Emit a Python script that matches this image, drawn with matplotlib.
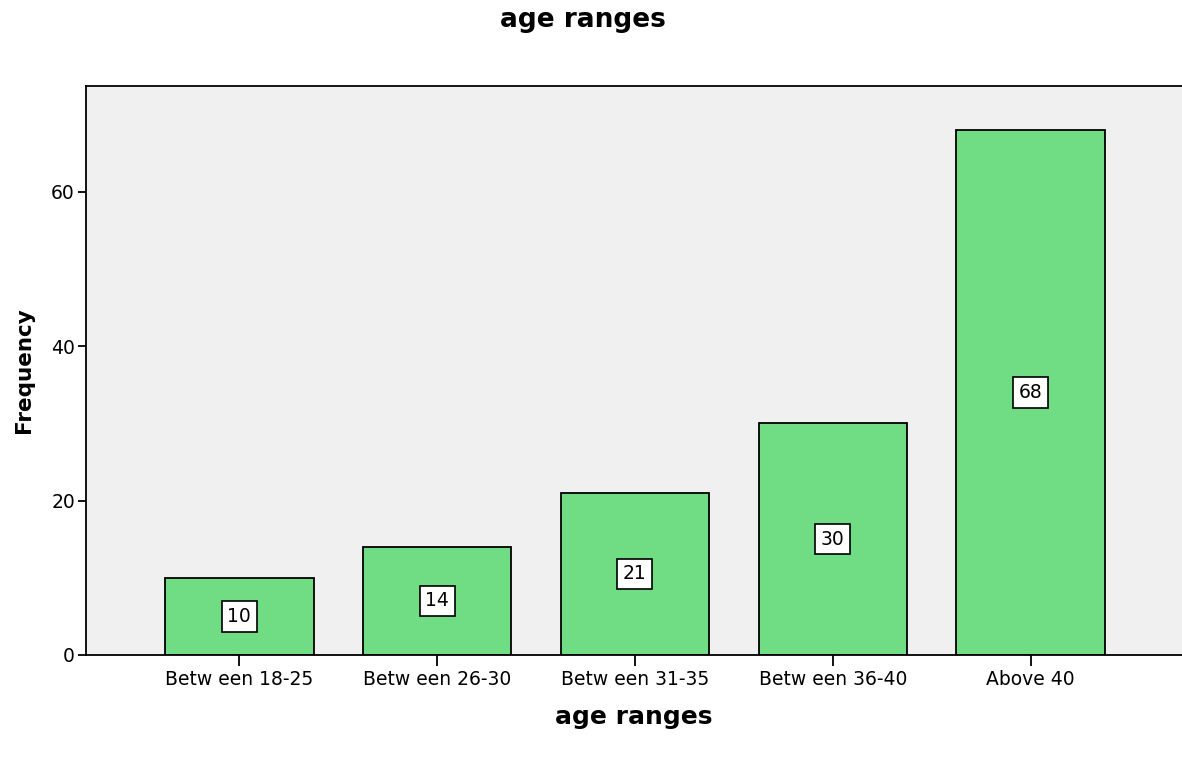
import numpy as np
import matplotlib.pyplot as plt

plt.rcParams['font.family'] = ['DejaVu Sans']

categories = ['Betw een 18-25', 'Betw een 26-30', 'Betw een 31-35', 'Betw een 36-40', 'Above 40']
freq = [10, 14, 21, 30, 68]

fig = plt.figure(figsize=(11.82, 7.68), dpi=100)
ax = fig.add_axes([86 / 1182, 1 - 655 / 768, 1 - 86 / 1182, (655 - 86) / 768])
ax.set_facecolor('#f0f0f0')

x = np.arange(len(categories))
bars = ax.bar(x, freq, width=0.75, color='#70dc84', edgecolor='black', linewidth=1.3)

for xi, v in zip(x, freq):
    ax.text(xi, v / 2, str(v), ha='center', va='center', fontsize=13.5,
            bbox=dict(boxstyle='square,pad=0.3', facecolor='white', edgecolor='black', linewidth=1.2))

ax.set_xlim(-0.775, 4.765)
ax.set_ylim(0, 73.7)
ax.set_yticks([0, 20, 40, 60])
ax.set_xticks(x)
ax.set_xticklabels(categories, fontsize=13.5)
ax.tick_params(axis='y', labelsize=13.5, length=6, width=1.3, direction='out', pad=2)
ax.tick_params(axis='x', length=8, width=1.3, direction='out', pad=3)

for s in ['left', 'top', 'bottom']:
    ax.spines[s].set_linewidth(1.3)
ax.spines['right'].set_visible(False)

ax.set_xlabel('age ranges', fontsize=18, fontweight='bold', labelpad=11)
ax.set_ylabel('Frequency', fontsize=15.5, fontweight='bold', labelpad=12)
fig.text(583 / 1182, 1 - 20 / 768, 'age ranges', ha='center', va='center',
         fontsize=19, fontweight='bold')

plt.savefig('out.png', dpi=100)
